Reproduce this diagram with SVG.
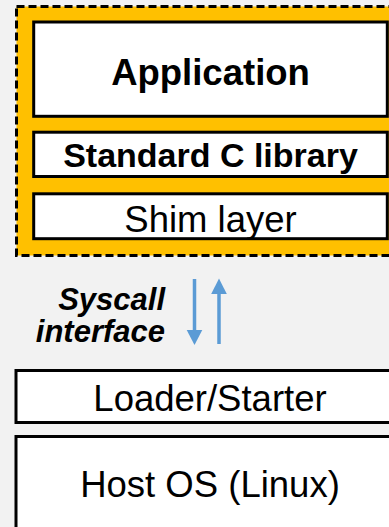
<svg xmlns="http://www.w3.org/2000/svg" width="389" height="527" viewBox="0 0 389 527">
  <style>
    .box { fill: #ffffff; stroke: #000000; stroke-width: 3; }
    .lbl { font-family: "Liberation Sans", Arial, sans-serif; fill: #000000; text-anchor: middle; }
    .bold { font-weight: bold; }
    .side { font-family: "Liberation Sans", Arial, sans-serif; font-weight: bold; font-style: italic; font-size: 31px; text-anchor: end; fill: #000000; }
    .arrow { stroke: #5B9BD5; stroke-width: 3.5; fill: none; }
    .head { fill: #5B9BD5; }
  </style>
  <rect x="0" y="0" width="389" height="527" fill="#F2F2F2"/>

  <!-- Sandboxed process container -->
  <g id="container">
    <rect x="16.5" y="6.5" width="392" height="249" fill="#FFC000" stroke="#000000" stroke-width="3" stroke-dasharray="8 4"/>
  </g>

  <g id="application">
    <rect class="box" x="33.7" y="22" width="353.6" height="94.3"/>
    <text class="lbl bold" x="210.5" y="85" font-size="36.5">Application</text>
  </g>

  <g id="libc">
    <rect class="box" x="33.7" y="132.2" width="353.6" height="44.3"/>
    <text class="lbl bold" x="210.5" y="166.7" font-size="34">Standard C library</text>
  </g>

  <g id="shim">
    <rect class="box" x="33.7" y="193.8" width="353.6" height="44.9"/>
    <text class="lbl" x="210.5" y="231.7" font-size="36.5">Shim layer</text>
  </g>

  <g id="syscall-label">
    <text class="side" x="165" y="309.5">Syscall</text>
    <text class="side" x="165" y="341.7">interface</text>
  </g>

  <g id="connectors">
    <line class="arrow" x1="194.5" y1="279" x2="194.5" y2="332"/>
    <polygon class="head" points="186.7,330 202.3,330 194.5,345"/>
    <line class="arrow" x1="219" y1="344" x2="219" y2="292"/>
    <polygon class="head" points="211.2,294 226.8,294 219,278.5"/>
  </g>

  <g id="loader">
    <rect class="box" x="16" y="370.5" width="392" height="52"/>
    <text class="lbl" x="210" y="410.7" font-size="36.5">Loader/Starter</text>
  </g>

  <g id="host-os">
    <rect class="box" x="16" y="436.5" width="392" height="120"/>
    <text class="lbl" x="210" y="496.7" font-size="36.5">Host OS (Linux)</text>
  </g>
</svg>
